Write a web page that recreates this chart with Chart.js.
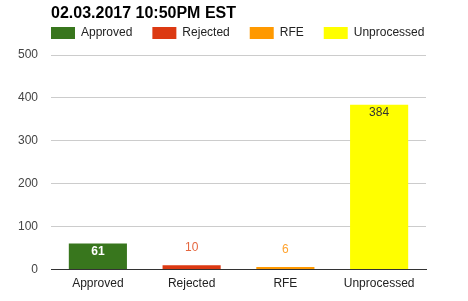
<!DOCTYPE html>
<html>
<head>
<meta charset="utf-8">
<script src="https://cdn.jsdelivr.net/npm/chart.js@4.4.1/dist/chart.umd.min.js"></script>
<style>
  html, body { margin: 0; padding: 0; background: #fff; }
  #wrap { width: 468px; height: 301px; }
</style>
</head>
<body>
<div id="wrap"><canvas id="statusChart"></canvas></div>
<script>
const titleText = '02.03.2017 10:50PM EST';
const categories = ['Approved', 'Rejected', 'RFE', 'Unprocessed'];
const counts = [61, 10, 6, 384];
const barColors = ['#38761d', '#dc3912', '#ff9900', '#ffff00'];
const labelColors = ['#ffffff', '#e5673f', '#ffa32e', '#333333'];
const labelInside = [true, false, false, true];
const yMax = 500;
const yStep = 100;

// title drawn at top-left, same left edge as the legend
const titlePlugin = {
    id: 'topTitle',
    afterDraw(chart) {
        const ctx = chart.ctx;
        ctx.save();
        ctx.font = 'bold 16px "Liberation Sans", Arial, sans-serif';
        ctx.fillStyle = '#000';
        ctx.textAlign = 'left';
        ctx.textBaseline = 'alphabetic';
        ctx.fillText(titleText, 51, 18);
        ctx.restore();
    }
};

// give the legend a bit more room below it
const legendSpace = {
    id: 'legendSpace',
    beforeInit(chart) {
        const fit = chart.legend.fit;
        chart.legend.fit = function () {
            fit.bind(chart.legend)();
            this.height += 6;
        };
    }
};

// value labels: inside the bar top for tall bars, above for short ones
const valueLabels = {
    id: 'valueLabels',
    afterDatasetsDraw(chart) {
        const ctx = chart.ctx;
        ctx.save();
        ctx.textAlign = 'center';
        ctx.textBaseline = 'middle';
        chart.data.datasets.forEach((ds, di) => {
            const meta = chart.getDatasetMeta(di);
            meta.data.forEach((bar, i) => {
                if (ds.data[i] == null) return;
                const inside = labelInside[i];
                ctx.font = (i === 0 ? 'bold ' : '') + '12px "Liberation Sans", Arial, sans-serif';
                ctx.fillStyle = labelColors[i];
                const y = inside ? bar.y + 8 : bar.y - 17.5;
                ctx.fillText(ds.data[i], bar.x, y);
            });
        });
        ctx.restore();
    }
};

Chart.defaults.font.family = '"Liberation Sans", Arial, sans-serif';
Chart.defaults.font.size = 12;

// one dataset per status so each one gets its own legend entry
const datasets = categories.map((c, i) => ({
    label: c,
    data: categories.map((_, j) => (j === i ? counts[i] : null)),
    backgroundColor: barColors[i],
    borderWidth: 0,
    barPercentage: 1,
    categoryPercentage: 0.62,
    skipNull: true
}));

new Chart(document.getElementById('statusChart'), {
    type: 'bar',
    data: { labels: categories, datasets: datasets },
    options: {
        responsive: true,
        maintainAspectRatio: false,
        animation: false,
        layout: { padding: { top: 7, left: 31, right: 10, bottom: 3 } },
        plugins: {
            title: { display: false },
            tooltip: { enabled: false },
            legend: {
                position: 'top',
                align: 'start',
                labels: {
                    boxWidth: 24,
                    boxHeight: 12,
                    padding: 20,
                    color: '#222',
                    font: { size: 12 }
                }
            }
        },
        scales: {
            x: {
                grid: { display: false, drawTicks: false },
                border: { display: true, color: '#333', width: 1 },
                ticks: { color: '#222', padding: 7, font: { size: 12 } }
            },
            y: {
                min: 0,
                max: yMax,
                afterFit(scale) { scale.width = 20; },
                grid: { color: '#cccccc', drawTicks: false },
                border: { display: false },
                // mirrored so the labels are not clipped to the narrow axis box,
                // then pushed back left of the plot and right-aligned
                ticks: {
                    stepSize: yStep,
                    mirror: true,
                    crossAlign: 'far',
                    padding: -33,
                    color: '#444',
                    font: { size: 12 }
                }
            },
            // empty right axis, only keeps the plot clear of the right edge
            yRight: {
                position: 'right',
                min: 0,
                max: yMax,
                afterFit(scale) { scale.width = 32; },
                grid: { display: false, drawTicks: false },
                border: { display: false },
                ticks: { display: false }
            }
        }
    },
    plugins: [titlePlugin, legendSpace, valueLabels]
});
</script>
</body>
</html>
